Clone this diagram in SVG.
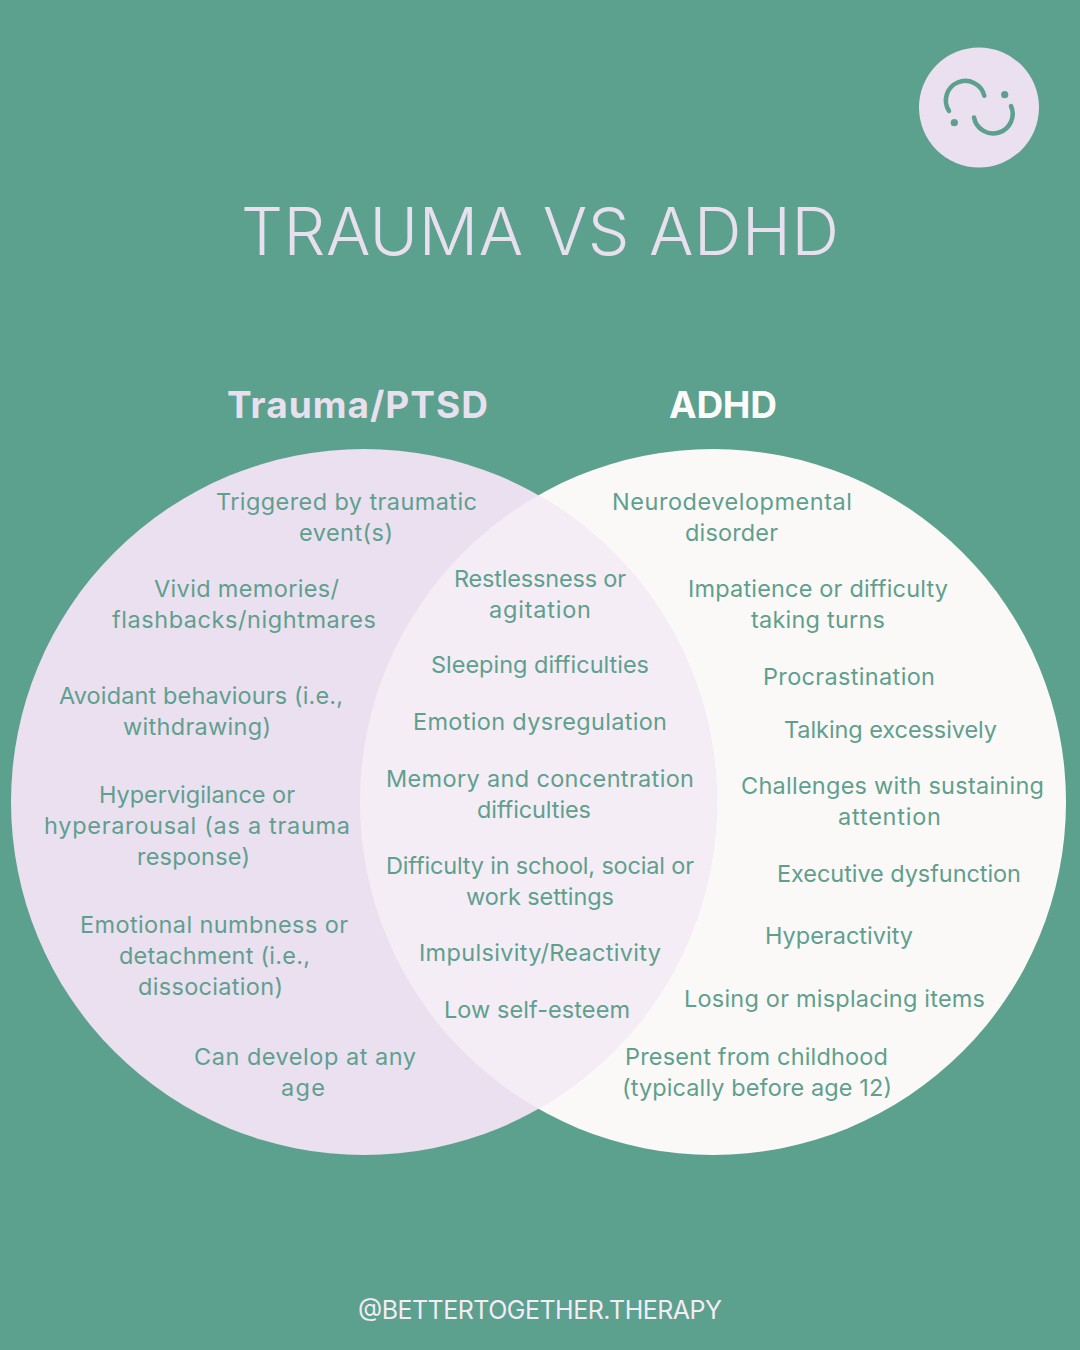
<svg xmlns="http://www.w3.org/2000/svg" width="1080" height="1350" viewBox="0 0 1080 1350">
<style>
text{font-family:"Inter","Liberation Sans",sans-serif;}
.b{font-size:23.5px;fill:#5f9f8e;font-weight:400;}
.t{font-size:66px;fill:#e8e0ee;font-weight:350;}
.h{font-size:37px;font-weight:700;}
.f{font-size:25px;fill:#f3ecf5;font-weight:400;}
.l{fill:none;stroke:#5ca08e;stroke-width:4.5;stroke-linecap:round;}
</style>
<defs>
<clipPath id="clip-trauma"><circle cx="364" cy="802" r="353"/></clipPath>
</defs>
<rect width="1080" height="1350" fill="#5ca08e"/>
<g id="logo">
<circle cx="979" cy="107.500" r="60" fill="#ebe0f0"/>
<path class="l" d="M949 111A19.500 19.500 0 1 1 984.300 95.700"/>
<path class="l" d="M974 117.500A19.500 19.500 0 1 0 1011 106"/>
<circle cx="954.300" cy="122.700" r="3.600" fill="#5ca08e"/>
<circle cx="1004.700" cy="94.700" r="3.600" fill="#5ca08e"/>
</g>
<text class="t" x="241" y="255" textLength="598">TRAUMA VS ADHD</text>
<text class="h" x="227" y="418" textLength="261" fill="#e8e0ee">Trauma/PTSD</text>
<text class="h" x="669" y="418" textLength="108" fill="#fdfbf9">ADHD</text>
<g id="circle-adhd"><circle cx="713" cy="802" r="353" fill="#fbf9f7"/></g>
<g id="circle-trauma"><circle cx="364" cy="802" r="353" fill="#ebe0f0"/></g>
<g id="overlap"><circle cx="713" cy="802" r="353" fill="#f4edf5" clip-path="url(#clip-trauma)"/></g>
<g id="trauma-items">
<text class="b" x="216" y="510" textLength="261">Triggered by traumatic</text>
<text class="b" x="299" y="541" textLength="94">event(s)</text>
<text class="b" x="154" y="597" textLength="185">Vivid memories/</text>
<text class="b" x="112" y="628" textLength="264">flashbacks/nightmares</text>
<text class="b" x="59" y="704" textLength="284">Avoidant behaviours (i.e.,</text>
<text class="b" x="123" y="735" textLength="148">withdrawing)</text>
<text class="b" x="99" y="803" textLength="196">Hypervigilance or</text>
<text class="b" x="44" y="834" textLength="306">hyperarousal (as a trauma</text>
<text class="b" x="137" y="865" textLength="113">response)</text>
<text class="b" x="80" y="933" textLength="268">Emotional numbness or</text>
<text class="b" x="119" y="964" textLength="191">detachment (i.e.,</text>
<text class="b" x="138" y="995" textLength="145">dissociation)</text>
<text class="b" x="194" y="1065" textLength="222">Can develop at any</text>
<text class="b" x="281" y="1096" textLength="44">age</text>
</g>
<g id="shared-items">
<text class="b" x="454" y="587" textLength="172">Restlessness or</text>
<text class="b" x="489" y="618" textLength="102">agitation</text>
<text class="b" x="431" y="673" textLength="218">Sleeping difficulties</text>
<text class="b" x="413" y="730" textLength="254">Emotion dysregulation</text>
<text class="b" x="386" y="787" textLength="308">Memory and concentration</text>
<text class="b" x="477" y="818" textLength="114">difficulties</text>
<text class="b" x="386" y="874" textLength="308">Difficulty in school, social or</text>
<text class="b" x="466" y="905" textLength="148">work settings</text>
<text class="b" x="419" y="961" textLength="242">Impulsivity/Reactivity</text>
<text class="b" x="444" y="1018" textLength="186">Low self-esteem</text>
</g>
<g id="adhd-items">
<text class="b" x="612" y="510" textLength="240">Neurodevelopmental</text>
<text class="b" x="685" y="541" textLength="93">disorder</text>
<text class="b" x="688" y="597" textLength="260">Impatience or difficulty</text>
<text class="b" x="751" y="628" textLength="134">taking turns</text>
<text class="b" x="763" y="685" textLength="172">Procrastination</text>
<text class="b" x="784" y="738" textLength="213">Talking excessively</text>
<text class="b" x="741" y="794" textLength="303">Challenges with sustaining</text>
<text class="b" x="838" y="825" textLength="103">attention</text>
<text class="b" x="777" y="882" textLength="244">Executive dysfunction</text>
<text class="b" x="765" y="944" textLength="148">Hyperactivity</text>
<text class="b" x="684" y="1007" textLength="301">Losing or misplacing items</text>
<text class="b" x="625" y="1065" textLength="263">Present from childhood</text>
<text class="b" x="622" y="1096" textLength="270">(typically before age 12)</text>
</g>
<text class="f" x="358" y="1319" textLength="364">@BETTERTOGETHER.THERAPY</text>
</svg>
